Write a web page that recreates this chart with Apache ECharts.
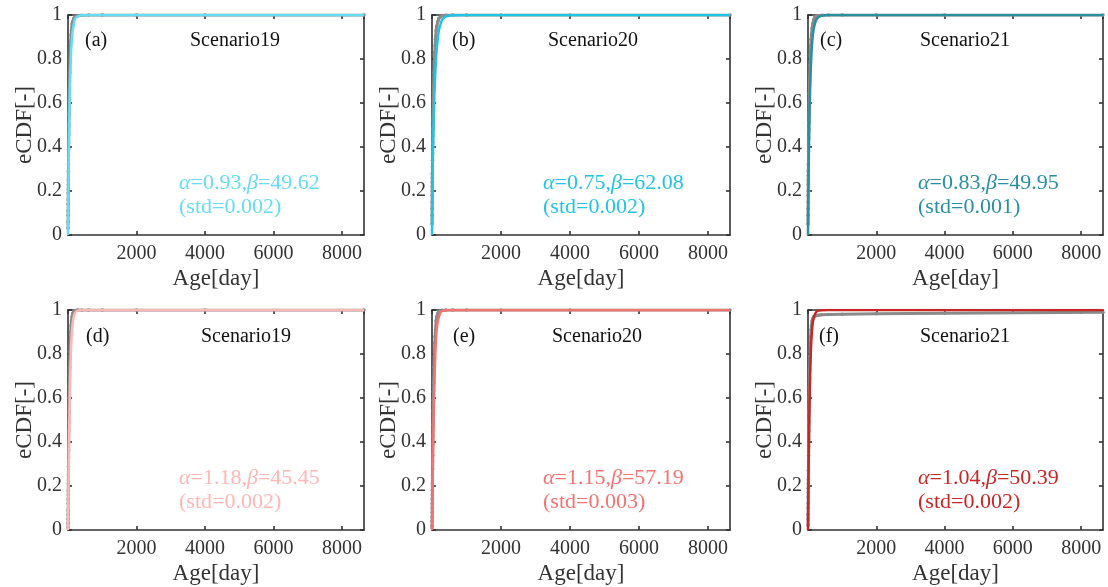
<!DOCTYPE html>
<html>
<head>
<meta charset="utf-8">
<script src="https://cdn.jsdelivr.net/npm/echarts@6/dist/echarts.min.js"></script>
<style>html,body{margin:0;padding:0;background:#fff;}#c{width:1108px;height:587px;}</style>
</head>
<body>
<div id="c"></div>
<script>
// ---------- data ----------
const panelLabels = ['(a)','(b)','(c)','(d)','(e)','(f)'];
const scenarios = ['Scenario19','Scenario20','Scenario21','Scenario19','Scenario20','Scenario21'];
const alphas = ['0.93','0.75','0.83','1.18','1.15','1.04'];
const betas = ['49.62','62.08','49.95','45.45','57.19','50.39'];
const stds = ['0.002','0.002','0.001','0.002','0.003','0.002'];
const fitColors = ['#66dcf5','#22c4e6','#2a8fa0','#ffb6b6','#f47272','#c62828'];

const xTickValues = [2000,4000,6000,8000];
const yTickLabels = ['0','0.2','0.4','0.6','0.8','1'];
const xMax = 8640;

// empirical CDF (grey dots)
const ageEcdf = [1,2,3,4,5,6,7,8,9,10,12,14,16,18,20,23,26,30,35,40,45,50,60,70,80,90,100,120,140,170,200,250,300,400,600,1000,2000,4000,8640];
const ecdfA = [.03,.06,.09,.11,.14,.16,.19,.21,.23,.25,.29,.32,.36,.39,.42,.46,.50,.55,.61,.66,.70,.74,.80,.85,.88,.91,.93,.96,.97,.985,.99,.995,.997,.999,1,1,1,1,1];
const ecdfB = [.05,.09,.12,.15,.18,.20,.22,.24,.26,.28,.31,.34,.37,.40,.42,.45,.48,.52,.57,.61,.65,.68,.74,.79,.83,.86,.89,.93,.95,.97,.985,.993,.997,.999,1,1,1,1,1];
const ecdfC = [.05,.09,.12,.15,.18,.20,.23,.25,.27,.29,.32,.35,.38,.41,.44,.48,.51,.55,.60,.64,.68,.71,.77,.82,.86,.89,.91,.94,.96,.98,.99,.995,.997,.999,1,1,1,1,1];
const ecdfD = [.01,.03,.05,.07,.09,.12,.14,.16,.18,.21,.25,.29,.33,.36,.40,.45,.49,.54,.60,.65,.70,.74,.81,.86,.90,.93,.95,.97,.985,.993,.997,.999,1,1,1,1,1,1,1];
const ecdfE = [.01,.02,.04,.06,.08,.10,.12,.14,.16,.18,.21,.25,.28,.31,.34,.39,.43,.48,.54,.59,.63,.67,.74,.80,.85,.88,.91,.95,.97,.985,.993,.997,.999,1,1,1,1,1,1];
const ecdfF = [.02,.05,.07,.10,.12,.15,.17,.19,.21,.23,.27,.31,.34,.38,.41,.45,.49,.54,.60,.65,.69,.73,.79,.84,.88,.91,.93,.95,.96,.97,.972,.975,.976,.978,.98,.981,.983,.985,.99];

// fitted gamma CDF (coloured line)
const ageFit = [0,2,5,10,20,30,40,50,60,80,100,130,160,200,250,300,400,600,1000,8640];
const fitA = [0,.05,.10,.18,.33,.45,.55,.63,.70,.80,.86,.92,.95,.98,.99,.995,.999,1,1,1];
const fitB = [0,.05,.11,.18,.30,.39,.47,.53,.59,.68,.75,.83,.88,.93,.96,.98,.993,.999,1,1];
const fitC = [0,.05,.11,.19,.32,.43,.52,.59,.65,.75,.82,.89,.93,.96,.98,.99,.997,1,1,1];
const fitD = [0,.02,.06,.13,.28,.40,.51,.60,.68,.79,.87,.93,.965,.985,.995,.998,1,1,1,1];
const fitE = [0,.02,.05,.11,.24,.35,.45,.54,.61,.73,.82,.90,.94,.97,.99,.995,.999,1,1,1];
const fitF = [0,.03,.09,.17,.31,.43,.53,.62,.69,.80,.87,.93,.96,.98,.993,.997,.999,1,1,1];

const ecdfs = [ecdfA,ecdfB,ecdfC,ecdfD,ecdfE,ecdfF];
const fits = [fitA,fitB,fitC,fitD,fitE,fitF];

// ---------- layout ----------
const FONT = '"Liberation Serif","Times New Roman",serif';
const gridBoxes = [
  {left:68, right:364, top:15, bottom:235},
  {left:432, right:730, top:15, bottom:235},
  {left:808, right:1103, top:15, bottom:235},
  {left:68, right:364, top:310, bottom:530},
  {left:432, right:730, top:310, bottom:530},
  {left:808, right:1103, top:310, bottom:530}
];
const labelPos = [
  {lab:[85,42], sc:[190,42], ann:[179,183]},
  {lab:[452,42], sc:[548,42], ann:[543,183]},
  {lab:[820,42], sc:[920,42], ann:[918,183]},
  {lab:[86,338], sc:[201,338], ann:[179,478]},
  {lab:[453,338], sc:[552,338], ann:[543,478]},
  {lab:[819,338], sc:[920,338], ann:[918,478]}
];

const grid=[], xAxis=[], yAxis=[], series=[], graphic=[];
const axisColor = '#333';
const lineStyle = {color:axisColor, width:1.6};
gridBoxes.forEach((g,i)=>{
  grid.push({left:g.left, top:g.top, width:g.right-g.left, height:g.bottom-g.top, containLabel:false});
  xAxis.push({type:'value', gridIndex:i, min:0, max:xMax, interval:2000, position:'bottom',
    axisLine:{show:true, lineStyle, onZero:false},
    axisTick:{show:true, inside:true, length:4, lineStyle},
    splitLine:{show:false},
    axisLabel:{show:true, margin:9, color:'#333', fontFamily:FONT, fontSize:20,
      formatter:v=> xTickValues.includes(v) ? String(v) : '', showMaxLabel:false},
    name:'Age[day]', nameLocation:'middle', nameGap:32, nameMoveOverlap:false,
    nameTextStyle:{color:'#333', fontFamily:FONT, fontSize:23}
  });
  xAxis.push({type:'value', gridIndex:i, min:0, max:xMax, interval:2000, position:'top',
    axisLine:{show:true, lineStyle, onZero:false},
    axisTick:{show:true, inside:true, length:4, lineStyle},
    splitLine:{show:false}, axisLabel:{show:false}
  });
  yAxis.push({type:'value', gridIndex:i, min:0, max:1, interval:0.2, position:'left',
    axisLine:{show:true, lineStyle, onZero:false},
    axisTick:{show:true, inside:true, length:4, lineStyle},
    splitLine:{show:false},
    axisLabel:{show:true, margin:6, color:'#333', fontFamily:FONT, fontSize:20,
      formatter:(v)=> yTickLabels[Math.round(v*5)]},
    name:'eCDF[-]', nameLocation:'middle', nameGap:32, nameRotate:90, nameMoveOverlap:false,
    nameTextStyle:{color:'#333', fontFamily:FONT, fontSize:23}
  });
  yAxis.push({type:'value', gridIndex:i, min:0, max:1, interval:0.2, position:'right',
    axisLine:{show:true, lineStyle, onZero:false},
    axisTick:{show:true, inside:true, length:4, lineStyle},
    splitLine:{show:false}, axisLabel:{show:false}
  });

  series.push({type:'line', xAxisIndex:2*i, yAxisIndex:2*i,
    data: ageEcdf.map((a,k)=>[a, ecdfs[i][k]]),
    showSymbol:true, symbol:'circle', symbolSize:3.5,
    itemStyle:{color:'#8a8a8a'}, lineStyle:{color:'#8a8a8a', width:3},
    silent:true, animation:false, z:2});
  series.push({type:'line', xAxisIndex:2*i, yAxisIndex:2*i,
    data: ageFit.map((a,k)=>[a, fits[i][k]]),
    showSymbol:false, smooth:0.3, lineStyle:{color:fitColors[i], width:2.5},
    silent:true, animation:false, z:3});

  const p = labelPos[i];
  graphic.push({type:'text', left:p.lab[0], top:p.lab[1]-11, z:10,
    style:{text:panelLabels[i], font:'20px '+FONT, fill:'#111'}});
  graphic.push({type:'text', left:p.sc[0], top:p.sc[1]-11, z:10,
    style:{text:scenarios[i], font:'20px '+FONT, fill:'#111'}});
  graphic.push({type:'text', left:p.ann[0], top:p.ann[1]-12, z:10,
    style:{
      text:'{i|α}=' + alphas[i] + ',{i|β}=' + betas[i] + '\n(std=' + stds[i] + ')',
      font:'22px '+FONT, fill:fitColors[i], lineHeight:24,
      rich:{i:{fontStyle:'italic', fontFamily:FONT, fontSize:22, fill:fitColors[i], lineHeight:24}}
    }});
});

const chart = echarts.init(document.getElementById('c'), null, {renderer:'canvas'});
chart.setOption({animation:false, backgroundColor:'#fff', grid, xAxis, yAxis, series, graphic});
</script>
</body>
</html>
